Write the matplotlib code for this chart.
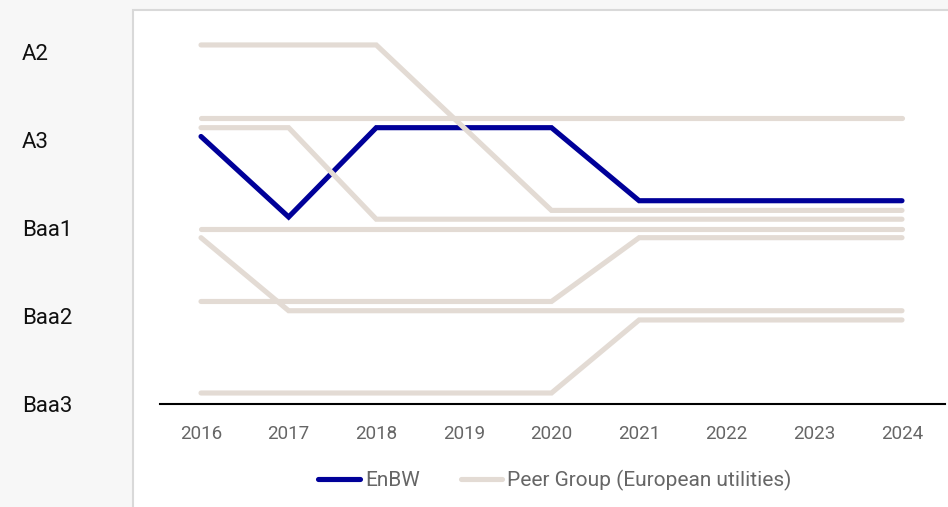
import matplotlib.pyplot as plt
from matplotlib.patches import Rectangle

# rating scale (Baa3 = 0 ... A2 = 4); small offsets keep the lines apart
ratings = ["Baa3", "Baa2", "Baa1", "A3", "A2"]
years = [2016, 2017, 2018, 2019, 2020, 2021, 2022, 2023, 2024]

enbw = [3.04, 2.125, 3.14, 3.14, 3.14, 2.31, 2.31, 2.31, 2.31]

peer_1 = [4.08, 4.08, 4.08, 3.14, 2.20, 2.20, 2.20, 2.20, 2.20]
peer_2 = [3.25, 3.25, 3.25, 3.25, 3.25, 3.25, 3.25, 3.25, 3.25]
peer_3 = [3.14, 3.14, 2.10, 2.10, 2.10, 2.10, 2.10, 2.10, 2.10]
peer_4 = [1.99, 1.99, 1.99, 1.99, 1.99, 1.99, 1.99, 1.99, 1.99]
peer_5 = [1.89, 1.06, 1.06, 1.06, 1.06, 1.06, 1.06, 1.06, 1.06]
peer_6 = [1.165, 1.165, 1.165, 1.165, 1.165, 1.89, 1.89, 1.89, 1.89]
peer_7 = [0.125, 0.125, 0.125, 0.125, 0.125, 0.955, 0.955, 0.955, 0.955]
peers = [peer_1, peer_2, peer_3, peer_4, peer_5, peer_6, peer_7]

W, H = 948, 507
BLUE = "#000099"
BEIGE = "#e3dbd4"

fig = plt.figure(figsize=(W / 100, H / 100), dpi=100, facecolor="#f7f7f7")

# white panel behind the plot
panel = Rectangle((133 / W, -0.01), 1.0, (H - 10) / H + 0.01, transform=fig.transFigure,
                  facecolor="white", edgecolor="#d9d9d9", linewidth=1.5, zorder=-1)
fig.patches.append(panel)

ax = fig.add_axes([160 / W, (H - 404) / H, (945 - 160) / W, 384 / H])
ax.set_facecolor("none")
ax.set_zorder(1)

lw = 3.7
ax.plot(years, enbw, color=BLUE, lw=lw, solid_capstyle="round",
        solid_joinstyle="miter", label="EnBW", zorder=2)
for i, p in enumerate(peers):
    ax.plot(years, p, color=BEIGE, lw=lw, solid_capstyle="round", solid_joinstyle="miter",
            label="Peer Group (European utilities)" if i == 0 else None, zorder=3)

ax.set_xlim(2016 - 41 / 87.625, 2024 + 43 / 87.625)
ax.set_ylim(0, 384 / 88)

for s in ["top", "right", "left"]:
    ax.spines[s].set_visible(False)
ax.spines["bottom"].set_color("black")
ax.spines["bottom"].set_linewidth(1.5)
ax.spines["bottom"].set_zorder(5)

font = ["Roboto", "DejaVu Sans"]
ax.set_xticks(years)
ax.set_xticklabels([str(y) for y in years], color="#666666", fontsize=13.5, family=font)
ax.tick_params(axis="x", length=0, pad=15)

ax.set_yticks(range(len(ratings)))
ax.set_yticklabels(ratings, fontsize=16, family=font, color="#111111")
ax.tick_params(axis="y", length=0, pad=138 * 0.72)
for t in ax.get_yticklabels():
    t.set_ha("left")

leg = fig.legend(loc="center", bbox_to_anchor=(555 / W, (H - 480) / H), ncol=2,
                 frameon=False, handlelength=2.0, handletextpad=0.25, columnspacing=1.95,
                 prop={"family": font, "size": 15})
for t in leg.get_texts():
    t.set_color("#666666")

fig.savefig("out.png", dpi=100, facecolor=fig.get_facecolor())
